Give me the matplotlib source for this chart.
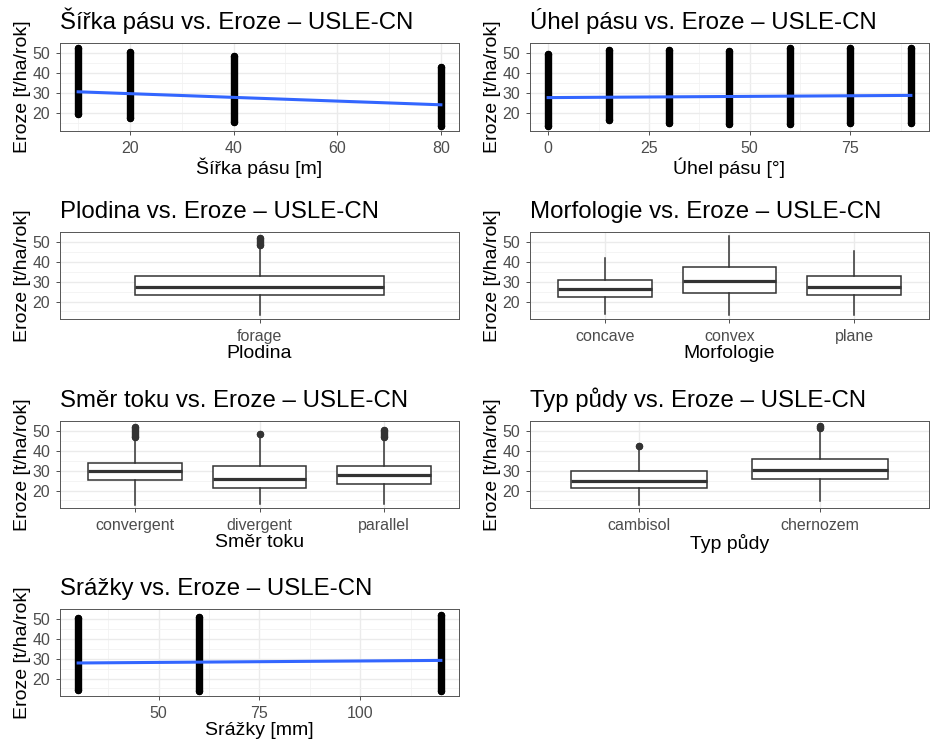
import matplotlib
matplotlib.use('Agg')
import matplotlib.pyplot as plt

plt.rcParams['font.family'] = ['Liberation Sans', 'DejaVu Sans']

# --- data ---
ylabel = 'Eroze [t/ha/rok]'

# Sirka pasu (scatter columns: x, min, max) + linear fit ends
width_x = [10, 20, 40, 80]
width_lo = [19.5, 17.8, 15.8, 13.7]
width_hi = [52.8, 50.8, 48.5, 43.0]
width_fit = [30.8, 24.3]

# Uhel pasu
angle_x = [0, 15, 30, 45, 60, 75, 90]
angle_lo = [13.7, 16.7, 15.3, 14.5, 14.5, 15.3, 15.3]
angle_hi = [49.7, 51.8, 51.8, 51.3, 52.5, 52.5, 52.5]
angle_fit = [27.9, 29.0]

# Srazky
rain_x = [30, 60, 120]
rain_lo = [14.1, 13.6, 13.6]
rain_hi = [50.5, 51.3, 52.1]
rain_fit = [27.9, 29.2]

# boxplots: whislo, q1, med, q3, whishi, flier range (lo, hi) or None
crop_cats = ['forage']
crop_box = [[13.0, 23.5, 27.4, 33.2, 47.5]]
crop_fliers = [(48.5, 52.3)]

morph_cats = ['concave', 'convex', 'plane']
morph_box = [[13.8, 22.3, 26.3, 30.7, 41.8],
             [13.3, 24.6, 30.4, 37.5, 53.0],
             [13.3, 23.1, 27.3, 32.7, 45.7]]
morph_fliers = [None, None, None]

flow_cats = ['convergent', 'divergent', 'parallel']
flow_box = [[12.9, 25.5, 29.9, 33.9, 46.5],
            [13.4, 21.5, 26.1, 32.4, 47.0],
            [13.4, 23.4, 27.8, 32.2, 46.5]]
flow_fliers = [(47.2, 52.0), (48.8, 48.8), (47.2, 50.8)]

soil_cats = ['cambisol', 'chernozem']
soil_box = [[12.9, 21.2, 25.1, 29.7, 40.5],
            [14.6, 25.8, 30.6, 35.8, 50.0]]
soil_fliers = [(42.4, 42.4), (51.8, 52.6)]

# --- layout ---
W, H = 937, 749
fig = plt.figure(figsize=(W / 100, H / 100), dpi=100)
rows = [(43, 131), (232, 319), (421, 508), (609, 696)]
cols = [60, 530]
DARK = '#333333'
PT = 5.3  # point diameter in pt


def panel(r, c):
    top, bot = rows[r]
    return fig.add_axes([cols[c] / W, 1 - bot / H, 399 / W, (bot - top) / H])


def style(ax, title, xlabel):
    ax.set_ylim(11.2, 55.2)
    ax.set_yticks([20, 30, 40, 50])
    ax.set_yticks([15, 25, 35, 45], minor=True)
    ax.set_axisbelow(True)
    ax.grid(which='major', color='#EBEBEB', lw=1.0)
    ax.grid(which='minor', color='#F2F2F2', lw=0.6)
    for s in ax.spines.values():
        s.set_color('#555555')
        s.set_linewidth(0.7)
    ax.tick_params(which='major', length=2.8, width=0.6, color=DARK,
                   labelcolor='#4D4D4D', labelsize=11.5, pad=4.2)
    ax.tick_params(which='minor', length=0)
    ax.set_xlabel(xlabel, fontsize=14, color='black')
    ax.set_ylabel(ylabel, fontsize=14, color='black')
    ax.xaxis.set_label_coords(0.5, -0.30)
    ax.yaxis.set_label_coords(-0.073, 0.5)
    ax.annotate(title, (0, 1), xycoords='axes fraction', xytext=(0, 10),
                textcoords='offset points', ha='left', va='baseline',
                fontsize=17.3)


def column(ax, x, lo, hi, color):
    ax.plot([x, x], [lo, hi], color=color, lw=PT, solid_capstyle='round')
    ax.plot([x, x], [lo, hi], 'o', color=color, ms=PT, mew=0)


def scatter_panel(ax, xs, lo, hi, fit, xticks, xminor, title, xlabel):
    for x, a, b in zip(xs, lo, hi):
        column(ax, x, a, b, 'black')
    ax.plot([xs[0], xs[-1]], fit, color='#3366FF', lw=2.2)
    pad = (xs[-1] - xs[0]) * 0.05
    ax.set_xlim(xs[0] - pad, xs[-1] + pad)
    ax.set_xticks(xticks)
    ax.set_xticks(xminor, minor=True)
    style(ax, title, xlabel)


def box_panel(ax, cats, boxes, fliers, title, xlabel):
    stats = []
    for c, b in zip(cats, boxes):
        stats.append(dict(label=c, whislo=b[0], q1=b[1], med=b[2],
                          q3=b[3], whishi=b[4], fliers=[]))
    pos = list(range(1, len(cats) + 1))
    ax.bxp(stats, positions=pos, widths=0.75, patch_artist=True,
           showfliers=False, showcaps=False,
           boxprops=dict(facecolor='white', edgecolor=DARK, lw=1.1),
           medianprops=dict(color=DARK, lw=2.3),
           whiskerprops=dict(color=DARK, lw=1.1))
    for p, f in zip(pos, fliers):
        if f is not None:
            column(ax, p, f[0], f[1], DARK)
    ax.set_xlim(0.4, len(cats) + 0.6)
    ax.set_xticks(pos)
    ax.set_xticklabels(cats)
    style(ax, title, xlabel)


suffix = ' vs. Eroze – USLE-CN'
scatter_panel(panel(0, 0), width_x, width_lo, width_hi, width_fit,
              [20, 40, 60, 80], [10, 30, 50, 70],
              'Šířka pásu' + suffix, 'Šířka pásu [m]')
scatter_panel(panel(0, 1), angle_x, angle_lo, angle_hi, angle_fit,
              [0, 25, 50, 75], [12.5, 37.5, 62.5, 87.5],
              'Úhel pásu' + suffix, 'Úhel pásu [°]')
box_panel(panel(1, 0), crop_cats, crop_box, crop_fliers,
          'Plodina' + suffix, 'Plodina')
box_panel(panel(1, 1), morph_cats, morph_box, morph_fliers,
          'Morfologie' + suffix, 'Morfologie')
box_panel(panel(2, 0), flow_cats, flow_box, flow_fliers,
          'Směr toku' + suffix, 'Směr toku')
box_panel(panel(2, 1), soil_cats, soil_box, soil_fliers,
          'Typ půdy' + suffix, 'Typ půdy')
scatter_panel(panel(3, 0), rain_x, rain_lo, rain_hi, rain_fit,
              [50, 75, 100], [37.5, 62.5, 87.5, 112.5],
              'Srážky' + suffix, 'Srážky [mm]')

fig.savefig('out.png', dpi=100, facecolor='white')
